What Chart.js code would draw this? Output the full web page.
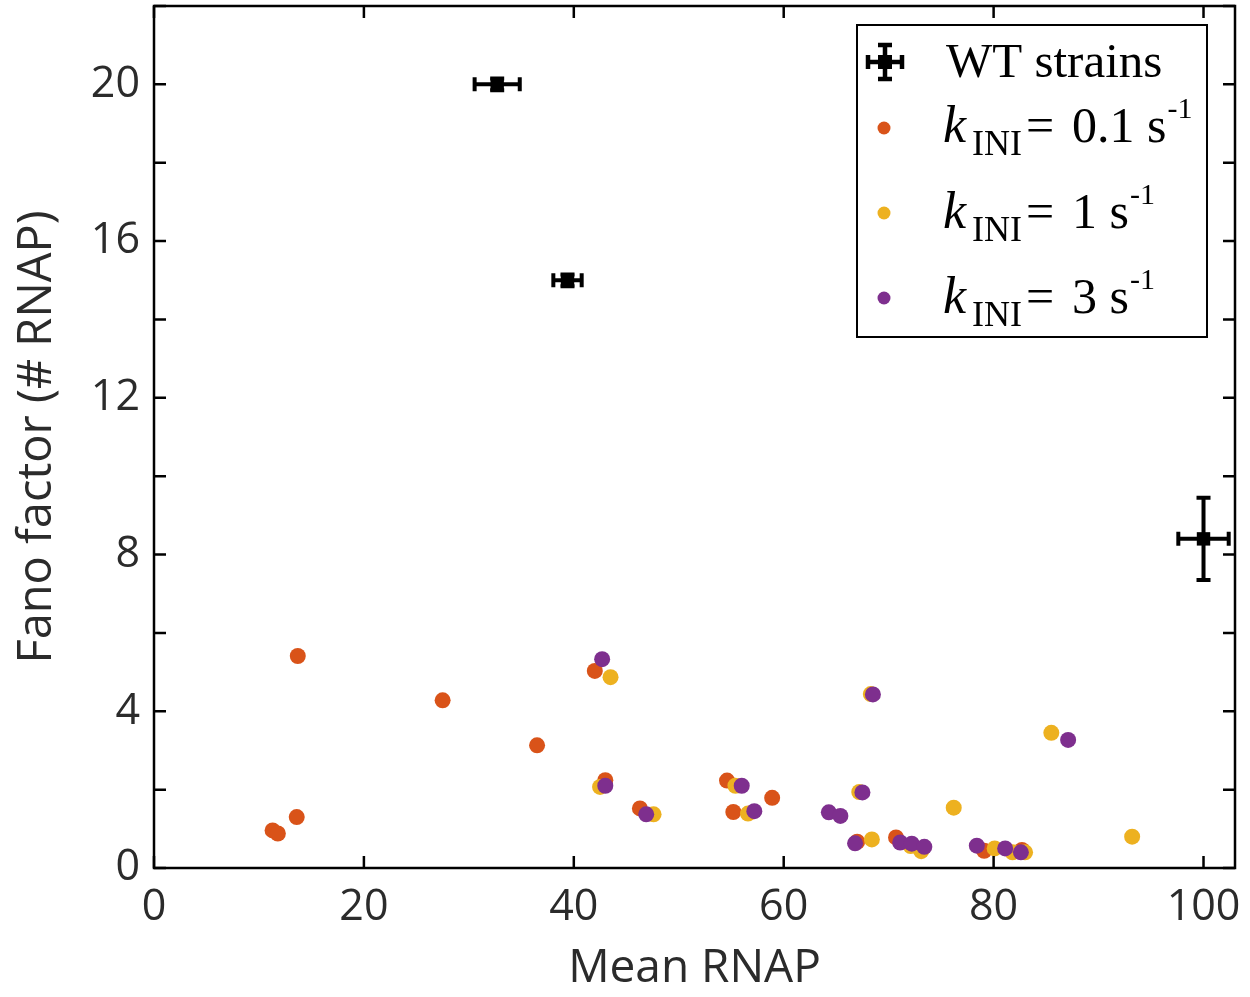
<!DOCTYPE html>
<html>
<head>
<meta charset="utf-8">
<script src="https://cdn.jsdelivr.net/npm/chart.js@4.4.1/dist/chart.umd.min.js"></script>
<style>
  body { margin: 0; background: #fff; }
  #wrap { width: 1250px; height: 997px; }
</style>
</head>
<body>
<div id="wrap"><canvas id="fano_chart" width="1250" height="997"></canvas></div>
<script>
// WT strains (with error bars)
let wt_x = [32.7, 39.4, 100.0]
let wt_y = [20.0, 15.0, 8.4]
let wt_x_err = [2.15, 1.35, 2.4]
let wt_y_err = [0.15, 0.15, 1.05]

// k_INI = 0.1 s^-1
let slow_x = [11.3, 11.8, 13.6, 13.7, 27.5, 36.5, 42.0, 43.0, 46.3, 54.6, 55.2, 58.9, 67.0, 70.7, 79.1, 82.7]
let slow_y = [0.96, 0.88, 1.30, 5.41, 4.28, 3.13, 5.03, 2.24, 1.52, 2.23, 1.43, 1.79, 0.67, 0.78, 0.44, 0.46]

// k_INI = 1 s^-1
let mid_x = [42.5, 43.5, 47.6, 55.4, 56.6, 67.2, 68.3, 68.4, 72.1, 73.1, 76.2, 80.1, 81.8, 83.0, 85.5, 93.2]
let mid_y = [2.07, 4.87, 1.37, 2.10, 1.39, 1.94, 4.44, 0.73, 0.56, 0.43, 1.54, 0.50, 0.40, 0.40, 3.45, 0.80]

// k_INI = 3 s^-1
let fast_x = [42.7, 43.0, 46.9, 56.0, 57.2, 64.3, 65.4, 66.8, 67.5, 68.5, 71.1, 72.2, 73.4, 78.4, 81.1, 82.6, 87.1]
let fast_y = [5.33, 2.10, 1.37, 2.10, 1.45, 1.42, 1.33, 0.63, 1.93, 4.43, 0.65, 0.62, 0.54, 0.57, 0.50, 0.40, 3.27]

let x_ticks = [0, 20, 40, 60, 80, 100]
let legend_labels = ["WT strains", "0.1 s", "1 s", "3 s"]

const orange = '#D95319'
const yellow = '#EDB120'
const purple = '#7E2F8E'
const textGray = '#2b2b2b'

function toPoints(xs, ys) {
    let pts = []
    for (let i = 0; i < xs.length; i++) {
        pts.push({x: xs[i], y: ys[i]})
    }
    return pts
}

// error bars for the WT dataset
const errorBars = {
    id: 'errorBars',
    afterDatasetsDraw(chart) {
        const ctx = chart.ctx
        const xs = chart.scales.x
        const ys = chart.scales.y
        ctx.save()
        ctx.strokeStyle = '#000'
        ctx.lineWidth = 4
        const cap = 7
        for (let i = 0; i < wt_x.length; i++) {
            let cx = xs.getPixelForValue(wt_x[i])
            let cy = ys.getPixelForValue(wt_y[i])
            let x0 = xs.getPixelForValue(wt_x[i] - wt_x_err[i])
            let x1 = xs.getPixelForValue(wt_x[i] + wt_x_err[i])
            let y0 = ys.getPixelForValue(wt_y[i] - wt_y_err[i])
            let y1 = ys.getPixelForValue(wt_y[i] + wt_y_err[i])
            ctx.beginPath()
            ctx.moveTo(x0, cy); ctx.lineTo(x1, cy)
            ctx.moveTo(x0, cy - cap); ctx.lineTo(x0, cy + cap)
            ctx.moveTo(x1, cy - cap); ctx.lineTo(x1, cy + cap)
            ctx.moveTo(cx, y0); ctx.lineTo(cx, y1)
            ctx.moveTo(cx - cap, y0); ctx.lineTo(cx + cap, y0)
            ctx.moveTo(cx - cap, y1); ctx.lineTo(cx + cap, y1)
            ctx.stroke()
        }
        ctx.restore()
    }
}

// box around the plot with inward ticks on all four sides
const boxTicks = {
    id: 'boxTicks',
    afterDraw(chart) {
        const ctx = chart.ctx
        const a = chart.chartArea
        const tl = 12
        ctx.save()
        ctx.strokeStyle = '#000'
        ctx.lineWidth = 2.5
        ctx.beginPath()
        chart.scales.x.ticks.forEach(t => {
            let px = chart.scales.x.getPixelForValue(t.value)
            ctx.moveTo(px, a.bottom); ctx.lineTo(px, a.bottom - tl)
            ctx.moveTo(px, a.top); ctx.lineTo(px, a.top + tl)
        })
        chart.scales.y.ticks.forEach(t => {
            let py = chart.scales.y.getPixelForValue(t.value)
            ctx.moveTo(a.left, py); ctx.lineTo(a.left + tl, py)
            ctx.moveTo(a.right, py); ctx.lineTo(a.right - tl, py)
        })
        ctx.stroke()
        ctx.strokeRect(a.left, a.top, a.right - a.left, a.bottom - a.top)
        ctx.restore()
    }
}

// legend drawn by hand because of the subscripts / superscripts
const legendBox = {
    id: 'legendBox',
    afterDraw(chart) {
        const ctx = chart.ctx
        ctx.save()
        ctx.fillStyle = '#fff'
        ctx.fillRect(857, 25, 350, 312)
        ctx.strokeStyle = '#000'
        ctx.lineWidth = 2
        ctx.strokeRect(857, 25, 350, 312)

        // WT icon
        ctx.lineWidth = 4.5
        ctx.beginPath()
        ctx.moveTo(868, 62); ctx.lineTo(902, 62)
        ctx.moveTo(868, 55); ctx.lineTo(868, 69)
        ctx.moveTo(902, 55); ctx.lineTo(902, 69)
        ctx.moveTo(885, 45); ctx.lineTo(885, 79)
        ctx.moveTo(878, 45); ctx.lineTo(892, 45)
        ctx.moveTo(878, 79); ctx.lineTo(892, 79)
        ctx.stroke()
        ctx.fillStyle = '#000'
        ctx.fillRect(878, 55, 14, 14)

        ctx.textBaseline = 'alphabetic'
        ctx.textAlign = 'left'
        ctx.font = '49px "Liberation Serif", "Times New Roman", serif'
        ctx.fillText(legend_labels[0], 946, 77)

        let colors = [orange, yellow, purple]
        let rowY = [142, 228, 313]
        let dotY = [128, 213, 298]
        for (let i = 0; i < 3; i++) {
            ctx.fillStyle = colors[i]
            ctx.beginPath()
            ctx.arc(884, dotY[i], 6.5, 0, Math.PI * 2)
            ctx.fill()

            ctx.fillStyle = '#000'
            ctx.font = 'italic 52px "Liberation Serif", "Times New Roman", serif'
            ctx.fillText('k', 943, rowY[i])
            ctx.font = '36px "Liberation Serif", "Times New Roman", serif'
            ctx.fillText('INI', 972, rowY[i] + 13)
            ctx.font = '50px "Liberation Serif", "Times New Roman", serif'
            ctx.fillText('=', 1026, rowY[i])
            ctx.fillText(legend_labels[i + 1], 1072, rowY[i])
            let w = ctx.measureText(legend_labels[i + 1]).width
            ctx.font = '30px "Liberation Serif", "Times New Roman", serif'
            ctx.fillText('-1', 1072 + w + 1, rowY[i] - 24)
        }
        ctx.restore()
    }
}

const fano_data = {
    datasets: [
        {
            label: 'WT strains',
            data: toPoints(wt_x, wt_y),
            pointStyle: 'rect',
            pointRadius: 9.5,
            backgroundColor: '#000',
            borderWidth: 0,
            order: 0
        }, {
            label: 'kINI = 3 s-1',
            data: toPoints(fast_x, fast_y),
            pointRadius: 8,
            backgroundColor: purple,
            borderWidth: 0,
            order: 1
        }, {
            label: 'kINI = 1 s-1',
            data: toPoints(mid_x, mid_y),
            pointRadius: 8,
            backgroundColor: yellow,
            borderWidth: 0,
            order: 2
        }, {
            label: 'kINI = 0.1 s-1',
            data: toPoints(slow_x, slow_y),
            pointRadius: 8,
            backgroundColor: orange,
            borderWidth: 0,
            order: 3
        }
    ]
}

const fano_config = {
    type: 'scatter',
    data: fano_data,
    plugins: [errorBars, boxTicks, legendBox],
    options: {
        responsive: false,
        animation: false,
        devicePixelRatio: 1,
        layout: { autoPadding: false, padding: { top: 6, right: 15, left: 0, bottom: 0 } },
        plugins: {
            legend: { display: false },
            tooltip: { enabled: false }
        },
        scales: {
            x: {
                type: 'linear',
                min: 0,
                max: 103,
                grid: { display: false, drawTicks: false },
                border: { display: false },
                afterBuildTicks: (scale) => {
                    scale.ticks = x_ticks.map(v => ({value: v}))
                },
                afterFit: (scale) => {
                    scale.height = 129
                    scale.paddingLeft = 0
                    scale.paddingRight = 0
                },
                ticks: {
                    padding: 14,
                    color: textGray,
                    maxRotation: 0,
                    font: { family: '"Open Sans", sans-serif', size: 43 }
                },
                title: {
                    display: true,
                    text: 'Mean RNAP',
                    color: textGray,
                    padding: { bottom: 1 },
                    font: { family: '"Open Sans", sans-serif', size: 46 }
                }
            },
            y: {
                type: 'linear',
                min: 0,
                max: 22,
                grid: { display: false, drawTicks: false },
                border: { display: false },
                afterFit: (scale) => {
                    scale.width = 154
                    scale.paddingTop = 0
                    scale.paddingBottom = 0
                },
                ticks: {
                    stepSize: 2,
                    padding: 14,
                    color: textGray,
                    font: { family: '"Open Sans", sans-serif', size: 43 },
                    callback: (v) => (v % 4 === 0 && v <= 20) ? v : ''
                },
                title: {
                    display: true,
                    text: 'Fano factor (# RNAP)',
                    color: textGray,
                    padding: { top: 9 },
                    font: { family: '"Open Sans", sans-serif', size: 47 }
                }
            }
        }
    }
}

const fano_chart = new Chart(
    document.getElementById('fano_chart'),
    fano_config
)
</script>
</body>
</html>
